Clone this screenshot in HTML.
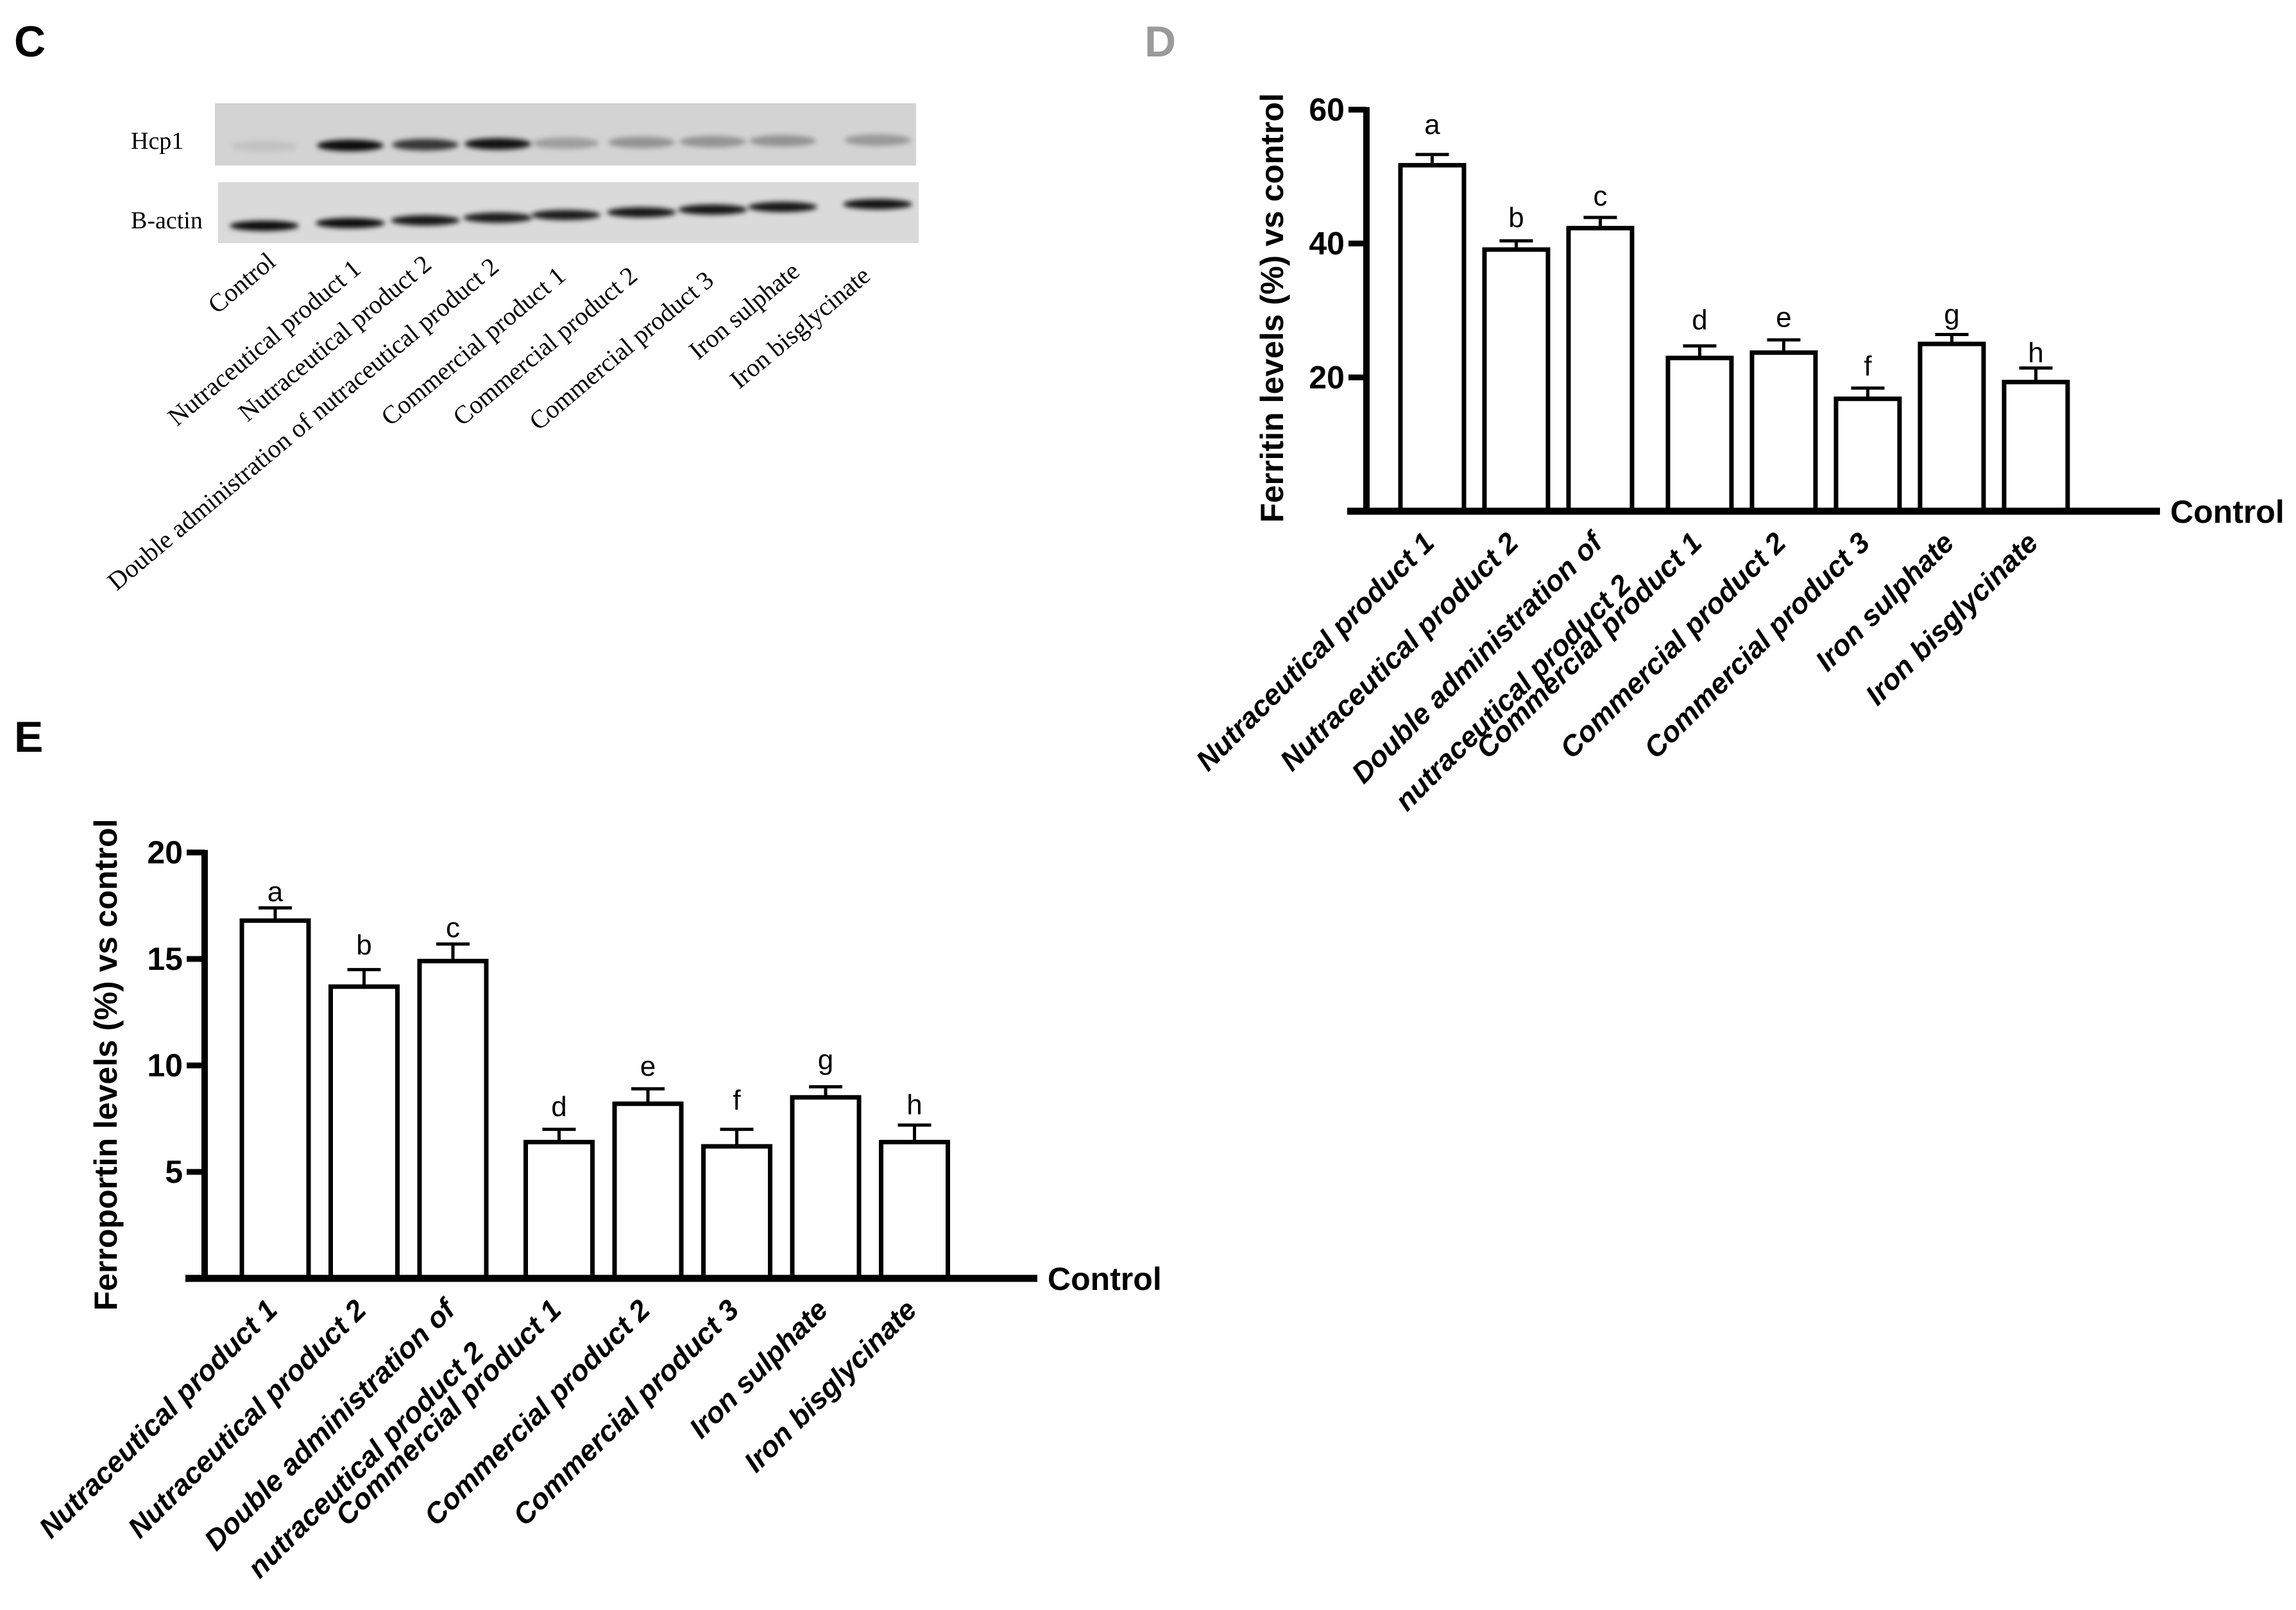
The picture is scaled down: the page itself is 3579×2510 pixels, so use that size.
<!DOCTYPE html>
<html><head><meta charset="utf-8"><style>
html,body{margin:0;padding:0;background:#fff;}
svg{display:block;}
.ax{font-family:"Liberation Sans Narrow","Liberation Sans",sans-serif;font-weight:bold;}
.xl{font-family:"Liberation Sans",sans-serif;font-weight:bold;font-style:italic;font-size:45px;}
.wb{font-family:"Liberation Serif",serif;}
</style></head><body>
<svg id="fig" width="3579" height="2510" viewBox="0 0 3579 2510" xmlns="http://www.w3.org/2000/svg">
<defs><filter id="blur" x="-30%" y="-100%" width="160%" height="300%"><feGaussianBlur stdDeviation="4"/></filter></defs>
<text x="22" y="88" font-family="Liberation Sans,sans-serif" font-weight="bold" font-size="68">C</text>
<text x="1784" y="88" font-family="Liberation Sans,sans-serif" font-weight="bold" font-size="68" fill="#9a9a9a">D</text>
<text x="22" y="1172" font-family="Liberation Sans,sans-serif" font-weight="bold" font-size="68">E</text>
<g id="blot"></g>
<g id="chartD"></g>
<g id="chartE"></g>
</svg>
<script>
const NS="http://www.w3.org/2000/svg";
const categories=["Nutraceutical product 1","Nutraceutical product 2","Double administration of|nutraceutical product 2","Commercial product 1","Commercial product 2","Commercial product 3","Iron sulphate","Iron bisglycinate"];
const letters=["a","b","c","d","e","f","g","h"];
const ferritinValues=[51.7,39.1,42.3,22.9,23.7,16.8,25.0,19.3];
const ferritinErr=[1.6,1.3,1.6,1.8,1.9,1.6,1.4,2.1];
const ferritinLetterY=[57.9,44.0,47.2,28.7,29.1,21.8,29.5,23.8];
const ferritinTicks=[20,40,60];
const ferroValues=[16.8,13.7,14.9,6.4,8.2,6.2,8.5,6.4];
const ferroErr=[0.6,0.8,0.8,0.6,0.7,0.8,0.5,0.8];
const ferroLetterY=[18.2,15.7,16.5,8.1,10.0,8.4,10.3,8.2];
const ferroTicks=[5,10,15,20];
const blotLanes=["Control","Nutraceutical product 1","Nutraceutical product 2","Double administration of nutraceutical product 2","Commercial product 1","Commercial product 2","Commercial product 3","Iron sulphate","Iron bisglycinate"];
const hcp1Intensity=[0.08,0.95,0.75,0.92,0.25,0.3,0.3,0.3,0.28];
const actinIntensity=[0.95,0.95,0.9,0.88,0.88,0.9,0.9,0.9,0.92];

function el(tag,attrs,parent){const e=document.createElementNS(NS,tag);for(const k in attrs)e.setAttribute(k,attrs[k]);if(parent)parent.appendChild(e);return e;}

function drawChart(g,cfg){
  const y=v=>cfg.base-(v/cfg.max)*(cfg.base-cfg.top);
  const n=cfg.values.length;
  const bx=i=>cfg.x0+i*cfg.step+(i>=3?cfg.gap:0);
  for(let i=0;i<n;i++){
    const cx=bx(i)+cfg.bw/2;
    const r=el('rect',{x:bx(i),y:y(cfg.values[i]),width:cfg.bw,height:cfg.base-y(cfg.values[i]),fill:'#fff',stroke:'#000','stroke-width':7},g);
    
    
    const e1=el('line',{x1:cx,x2:cx,y1:y(cfg.values[i]),y2:y(cfg.values[i]+cfg.err[i]),stroke:'#000','stroke-width':5},g);
    
    
    const e2=el('line',{x1:cx-26,x2:cx+26,y1:y(cfg.values[i]+cfg.err[i]),y2:y(cfg.values[i]+cfg.err[i]),stroke:'#000','stroke-width':5},g);
    
    
    const t=el('text',{x:cx,y:y(cfg.letterY[i])+16,'text-anchor':'middle','font-family':'Liberation Sans,sans-serif','font-size':44},g);
    t.textContent=letters[i];
    
    
    const lx=cx+6, ly=cfg.base+52;
    const tx=el('text',{class:'xl','text-anchor':'end',transform:`translate(${lx},${ly}) rotate(-45)`},g);
    
    
    const parts=categories[i].split('|');
    const s1=el('tspan',{x:0,y:0},tx);s1.textContent=parts[0];
    if(parts[1]){const s2=el('tspan',{x:-15,y:78},tx);s2.textContent=parts[1];}
  }
  const ya=el('line',{x1:cfg.ax,x2:cfg.ax,y1:cfg.top-4,y2:cfg.base+5,stroke:'#000','stroke-width':10},g);
  
  const xa=el('line',{x1:cfg.ax-30,x2:cfg.xend,y1:cfg.base,y2:cfg.base,stroke:'#000','stroke-width':11},g);
  
  for(const tv of cfg.ticks){
    const tl=el('line',{x1:cfg.ax-28,x2:cfg.ax,y1:y(tv),y2:y(tv),stroke:'#000','stroke-width':9},g);
    
    const tt=el('text',{x:cfg.ax-34,y:y(tv)+17,'text-anchor':'end',class:'ax','font-size':50},g);
    tt.textContent=tv;
    
  }
  const ct=el('text',{x:cfg.xend+16,y:cfg.base+18,class:'ax','font-size':50},g);
  ct.textContent='Control';
  
  const yt=el('text',{transform:`translate(${cfg.titleX},${cfg.titleY}) rotate(-90)`,'text-anchor':'middle','font-family':'Liberation Sans,sans-serif','font-weight':'bold','font-size':50},g);
  yt.textContent=cfg.title;
  
}

drawChart(document.getElementById('chartD'),{values:ferritinValues,err:ferritinErr,letterY:ferritinLetterY,ticks:ferritinTicks,max:60,top:171,base:797,ax:2130,xend:3367,x0:2183,step:131,gap:24,bw:99,titleX:2000,titleY:480,title:'Ferritin levels (%) vs control'});
drawChart(document.getElementById('chartE'),{values:ferroValues,err:ferroErr,letterY:ferroLetterY,ticks:ferroTicks,max:20,top:1329,base:1993,ax:319,xend:1617,x0:377,step:138.5,gap:27,bw:104,titleX:182,titleY:1660,title:'Ferroportin levels (%) vs control'});

(function(){
  const g=document.getElementById('blot');
  const s1=el('rect',{x:335,y:161,width:1093,height:97,fill:'#d3d3d3'},g);
  
  const s2=el('rect',{x:340,y:284,width:1092,height:95,fill:'#dadada'},g);
  
  const l1=el('text',{x:204,y:232,class:'wb','font-size':38},g);l1.textContent='Hcp1';
  
  const l2=el('text',{x:204,y:356,class:'wb','font-size':38},g);l2.textContent='B-actin';
  
  const laneX=[412,546,663,776,882,1000,1111,1220,1368];
  const ends=[[432,412],[565,423],[675,416],[780,420],[884,434],[996,434],[1115,441],[1249,427],[1359,434]];
  for(let i=0;i<blotLanes.length;i++){
    const b1=el('ellipse',{cx:laneX[i],cy:228-i*1.2,rx:52,ry:9,fill:'#000','fill-opacity':hcp1Intensity[i],filter:'url(#blur)'},g);
    
    const b2=el('ellipse',{cx:laneX[i],cy:352-i*4.2,rx:54,ry:8,fill:'#000','fill-opacity':actinIntensity[i],filter:'url(#blur)'},g);
    
    const t=el('text',{class:'wb','font-size':40,'text-anchor':'end',transform:`translate(${ends[i][0]},${ends[i][1]}) rotate(-40)`},g);
    t.textContent=blotLanes[i];
    
  }
})();
</script>
</body></html>
